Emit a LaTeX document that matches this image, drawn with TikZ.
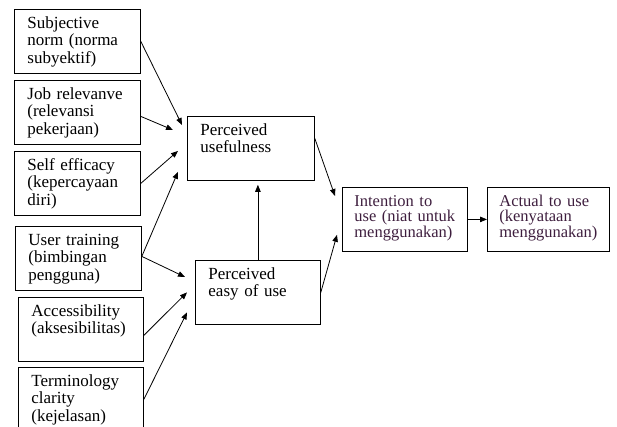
\documentclass[tikz,border=0pt]{standalone}
\usepackage{fontspec}
\setmainfont{Liberation Serif}
\usetikzlibrary{arrows.meta}
\hyphenpenalty=10000
\definecolor{plum}{RGB}{62,30,62}
\tikzset{
  blk/.style={draw, line width=0.8pt, anchor=north west, align=left,
    text width=100pt, inner xsep=13pt, inner ysep=6pt,
    text height=13pt, text depth=39pt, font=\fontsize{17}{17.5}\selectfont},
  arr/.style={->, line width=0.8pt},
}
\begin{document}
\begin{tikzpicture}[x=1pt, y=-1pt, >={Triangle[length=7pt,width=5.5pt]}]
  \clip (0,0) rectangle (617,427);
  \node[blk] (sn) at (14,9) {Subjective\\norm (norma\\subyektif)};
  \node[blk] (jr) at (14,80) {Job relevanve\\(relevansi\\pekerjaan)};
  \node[blk] (se) at (14,151) {Self efficacy\\(kepercayaan\\diri)};
  \node[blk] (ut) at (15,226) {User training\\(bimbingan\\pengguna)};
  \node[blk, text width=99pt] (ac) at (18,297) {Accessibility\\(aksesibilitas)};
  \node[blk, text width=99pt] (tc) at (18,367) {Terminology\\clarity\\(kejelasan)};
  \node[blk, text width=101pt] (pu) at (187,116) {Perceived\\usefulness};
  \node[blk, text width=99pt] (pe) at (195,260) {Perceived\\easy of use};
  \node[blk, text width=101pt, inner xsep=12pt, text=plum, font=\fontsize{16.5}{15.5}\selectfont] (in) at (342,187) {Intention to\\use (niat untuk\\menggunakan)};
  \node[blk, text width=98pt, inner xsep=12pt, text=plum, font=\fontsize{16.5}{15.5}\selectfont] (au) at (487,187) {Actual to use\\(kenyataan\\menggunakan)};
  \draw[arr] (sn.east) -- ([xshift=-5pt,yshift=-9pt]pu.north west);
  \draw[arr] ([yshift=-4pt]jr.east) -- ([xshift=-14pt,yshift=-14pt]pu.north west);
  \draw[arr] (se.east) -- ([xshift=-9pt,yshift=-2.5pt]pu.west);
  \draw[arr] ([yshift=2pt]ut.east) -- ([xshift=-9pt,yshift=9pt]pu.south west);
  \draw[arr] ([yshift=2pt]ut.east) -- ([xshift=-10pt,yshift=-17pt]pe.north west);
  \draw[arr] ([yshift=-6pt]ac.east) -- ([xshift=-8pt]pe.west);
  \draw[arr] (tc.east) -- ([xshift=-8pt,yshift=-20pt]pe.west);
  \draw[arr, shorten >=4pt] (pe.north) -- (pe.north |- pu.south);
  \draw[arr] ([yshift=10pt]pu.east) -- ([xshift=-7pt,yshift=-9pt]in.north west);
  \draw[arr] (pe.east) -- ([xshift=-5pt,yshift=17pt]in.south west);
  \draw[arr] (in.east) -- (au.west);
\end{tikzpicture}
\end{document}
